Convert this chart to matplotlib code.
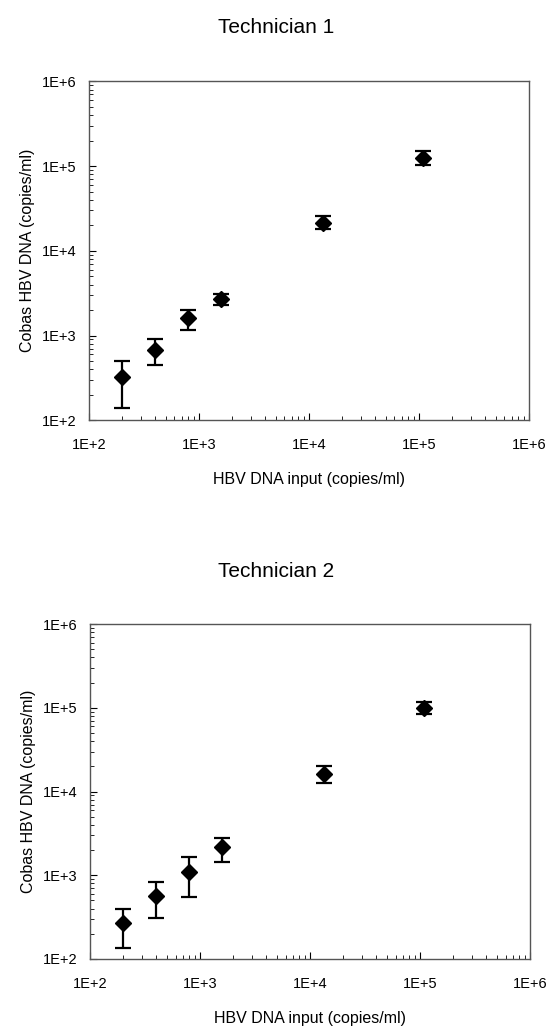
import numpy as np
import matplotlib
matplotlib.use("Agg")
import matplotlib.pyplot as plt
from matplotlib.ticker import LogLocator, FixedLocator, FixedFormatter, NullFormatter

plt.rcParams['font.family'] = ['Liberation Sans', 'DejaVu Sans']

# HBV DNA input (copies/ml)
x_input = [200, 400, 800, 1600, 13500, 110000]

# Technician 1: measured mean and error-bar ends
tech1_mean = [325, 680, 1590, 2680, 21500, 124000]
tech1_low = [139, 450, 1150, 2300, 18000, 102000]
tech1_high = [505, 920, 1990, 3100, 26000, 150000]

# Technician 2
tech2_mean = [270, 560, 1090, 2150, 16000, 100000]
tech2_low = [135, 305, 550, 1420, 12600, 85000]
tech2_high = [395, 830, 1630, 2820, 20000, 118000]

decades = [1e2, 1e3, 1e4, 1e5, 1e6]
decade_labels = ["1E+2", "1E+3", "1E+4", "1E+5", "1E+6"]

panels = [
    ("Technician 1", tech1_mean, tech1_low, tech1_high,
     [0.161, 0.592, 0.797, 0.329], 0.968),
    ("Technician 2", tech2_mean, tech2_low, tech2_high,
     [0.163, 0.069, 0.797, 0.325], 0.4398),
]

fig = plt.figure(figsize=(5.52, 10.30), dpi=100)

for title, mean, low, high, rect, title_y in panels:
    ax = fig.add_axes(rect)
    mean = np.array(mean, dtype=float)
    yerr = [mean - np.array(low), np.array(high) - mean]
    ax.errorbar(x_input, mean, yerr=yerr, fmt="D", color="black", ms=8.5,
                ecolor="black", elinewidth=1.6, capsize=6, capthick=1.6)
    ax.set_xscale("log")
    ax.set_yscale("log")
    ax.set_xlim(1e2, 1e6)
    ax.set_ylim(1e2, 1e6)
    for axis in (ax.xaxis, ax.yaxis):
        axis.set_major_locator(FixedLocator(decades))
        axis.set_major_formatter(FixedFormatter(decade_labels))
        axis.set_minor_locator(LogLocator(base=10, subs=np.arange(2, 10)))
        axis.set_minor_formatter(NullFormatter())
    ax.tick_params(which="major", direction="in", length=5, width=0.8,
                   labelsize=10.5, pad=9)
    ax.tick_params(which="minor", direction="in", length=3, width=0.6)
    ax.tick_params(axis="x", which="major", pad=13)
    for sp in ax.spines.values():
        sp.set_color("#555555")
        sp.set_linewidth(1.0)
    # title is centred on the page, not on the axes
    fig.text(0.5, title_y, title, fontsize=15, ha="center", va="baseline")
    ax.set_xlabel("HBV DNA input (copies/ml)", fontsize=11.5, labelpad=14.5)
    ax.set_ylabel("Cobas HBV DNA (copies/ml)", fontsize=11.5, labelpad=5)

plt.savefig("out.png", dpi=100)
